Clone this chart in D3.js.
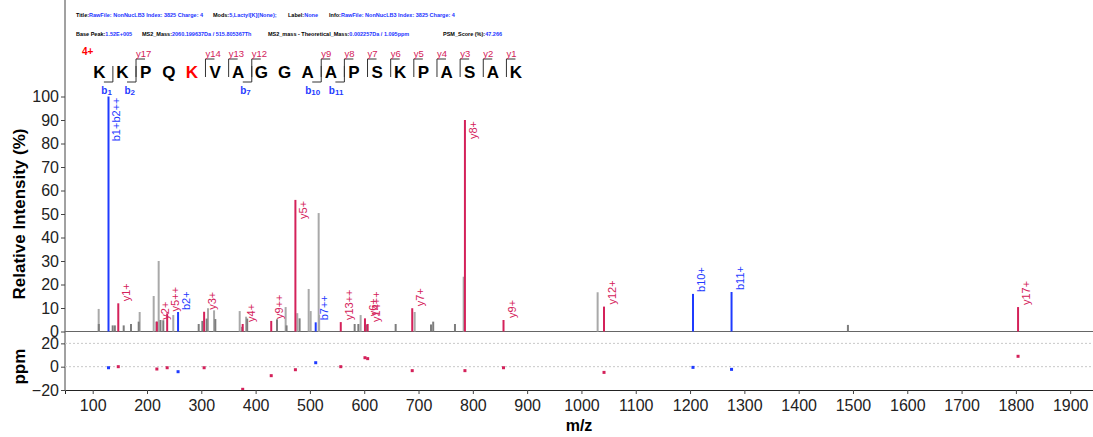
<!DOCTYPE html>
<html>
<head>
<meta charset="utf-8">
<script src="https://cdn.jsdelivr.net/npm/d3@7"></script>
<style>
    body { margin: 0; background: #ffffff; }
    svg { display: block; font-family: "Liberation Sans", Arial, sans-serif; }
</style>
</head>
<body>
<div id="chartContainer"></div>
<script>
// Peptide and fragment coverage
const sequence = "KKPQKVAGGAAPSKPASAK".split("");
const modSites = [5];
const bSites = [1, 2, 7, 10, 11];
const ySites = [17, 14, 13, 12, 9, 8, 7, 6, 5, 4, 3, 2, 1];
const precursorCharge = "4+";

// Header info
const headerRow1 = [["Title:", "RawFile: NonNucLB3 Index: 3825 Charge: 4"], ["Mods:", "5,Lactyl[K](None);"], ["Label:", "None"], ["Info:", "RawFile: NonNucLB3 Index: 3825 Charge: 4"]];
const headerRow2 = [["Base Peak:", "1.52E+005"], ["MS2_Mass:", "2060.199637Da / 515.805367Th"], ["MS2_mass - Theoretical_Mass:", "0.002257Da / 1.095ppm"], ["PSM_Score (%):", "47.266"]];

// Unmatched peaks (m/z, relative intensity)
const otherMz = [111.0, 111.3, 136.8, 140.8, 157.1, 170.5, 184.7, 186.5, 212.3, 217.5, 221.5, 224.8, 230.0, 248.4,
    295.2, 301.9, 309.9, 312.3, 323.5, 325.8, 370.7, 375.3, 382.5, 384.5, 439.4, 455.3, 457.0, 476.7, 481.0,
    497.7, 501.4, 516.1, 517.0, 582.4, 589.2, 593.4, 605.0, 657.9, 692.9, 723.0, 727.0, 767.1, 783.1, 1029.8, 1490.7];
const otherInt = [9.6, 3.2, 2.6, 2.6, 2.6, 3.2, 4.2, 8.3, 15.1, 4.2, 30.0, 4.9, 4.8, 7.0,
    3.2, 4.5, 5.5, 9.9, 9.0, 5.3, 8.7, 2.0, 6.3, 5.5, 5.2, 10.4, 2.6, 7.8, 5.6,
    18.1, 8.7, 50.4, 7.0, 3.2, 3.2, 7.0, 3.0, 3.2, 8.3, 3.0, 4.2, 3.2, 23.3, 16.7, 2.8];

// Matched fragment ions
const ionLabels = ["b1+b2++", "b2+", "b7++", "b10+", "b11+",
    "y1+", "y2+", "y5++", "y3+", "y4+", "y9++", "y5+", "y13++", "y6+", "y14++", "y7+", "y8+", "y9+", "y12+", "y17+"];
const ionType = ["b", "b", "b", "b", "b",
    "y", "y", "y", "y", "y", "y", "y", "y", "y", "y", "y", "y", "y", "y", "y"];
const ionMz = [129.10, 257.20, 510.66, 1205.4, 1276.4,
    147.11, 218.15, 237.14, 305.18, 376.22, 428.75, 473.27, 556.81, 601.37, 606.34, 688.40, 785.45, 856.49, 1041.57, 1804.0];
const ionInt = [100, 8.3, 3.9, 16.0, 16.8,
    12.0, 4.2, 7.7, 8.4, 3.2, 4.5, 56.0, 4.0, 5.6, 3.2, 9.9, 90.0, 4.9, 10.6, 10.4];
const ionPpm = [-0.9, -4.3, 3.4, -0.6, -2.3,
    0.0, -2.0, -0.9, -0.9, -19.4, -7.7, -2.6, 0.0, 7.7, 6.9, -3.4, -3.4, -0.9, -4.9, 8.9];

const intensityTicks = [0, 10, 20, 30, 40, 50, 60, 70, 80, 90, 100];
const ppmTicks = [-20, 0, 20];
const mzTicks = d3.range(100, 2000, 100);

const width = 1093;
const height = 437;
const left = 65;

const colors = { b: "#1f3bff", y: "#d4215a", mod: "#ff0000" };

const svg = d3.select("#chartContainer")
    .append("svg")
    .attr("width", width)
    .attr("height", height);

// Scales
const x = d3.scaleLinear().domain([49, 1942]).range([left, width]);
const yInt = d3.scaleLinear().domain([0, 100]).range([331.5, 96.5]);
const yPpm = d3.scaleLinear().domain([-20, 30]).range([390, 331.7]);

// Header lines
function drawHeader(row, yPos, starts) {
    const t = svg.append("text")
        .attr("y", yPos)
        .style("font-size", "5.5px")
        .style("font-weight", "bold");
    row.forEach((item, i) => {
        t.append("tspan").attr("x", starts[i]).attr("fill", "#000").text(item[0]);
        t.append("tspan").attr("fill", "#2233ff").text(item[1]);
    });
}
drawHeader(headerRow1, 17, [76, 213, 288, 329]);
drawHeader(headerRow2, 36, [76, 142, 268, 443]);

// Sequence annotation
const seqX = d3.scaleLinear().domain([0, sequence.length - 1]).range([99.3, 516]);
const seqG = svg.append("g");

seqG.selectAll(".aa")
    .data(sequence)
    .enter().append("text")
    .attr("class", "aa")
    .attr("x", (d, i) => seqX(i))
    .attr("y", 78)
    .attr("text-anchor", "middle")
    .style("font-size", "17px")
    .style("font-weight", "bold")
    .attr("fill", (d, i) => modSites.includes(i + 1) ? colors.mod : "#000")
    .text(d => d);

seqG.append("text")
    .attr("x", 82)
    .attr("y", 55)
    .style("font-size", "10px")
    .style("font-weight", "bold")
    .attr("fill", colors.mod)
    .text(precursorCharge);

// b ion markers: vertical + hook to the left at bottom
bSites.forEach(n => {
    const gx = seqX(n - 0.5) + 2;
    seqG.append("path")
        .attr("d", `M${gx},66V82H${gx - 9}`)
        .attr("fill", "none")
        .attr("stroke", "#333")
        .attr("stroke-width", 1);
    const t = seqG.append("text")
        .attr("x", gx - 1)
        .attr("y", 94)
        .attr("text-anchor", "end")
        .attr("fill", colors.b)
        .style("font-size", "10px")
        .style("font-weight", "bold");
    t.append("tspan").text("b");
    t.append("tspan").style("font-size", "8px").attr("dy", 1).text(n);
});

// y ion markers: vertical + hook to the right at top
ySites.forEach(n => {
    const gx = seqX(sequence.length - n - 0.5) + 2;
    seqG.append("path")
        .attr("d", `M${gx},77V59H${gx + 9}`)
        .attr("fill", "none")
        .attr("stroke", "#333")
        .attr("stroke-width", 1);
    seqG.append("text")
        .attr("x", gx)
        .attr("y", 57)
        .attr("fill", colors.y)
        .style("font-size", "9.5px")
        .text("y" + n);
});

// Axes lines
svg.append("line")
    .attr("x1", left).attr("x2", left)
    .attr("y1", 0).attr("y2", 390)
    .attr("stroke", "#444");

svg.append("line")
    .attr("x1", left).attr("x2", width)
    .attr("y1", yInt(0)).attr("y2", yInt(0))
    .attr("stroke", "#666")
    .attr("stroke-width", 1.2);

// ppm grid lines
svg.selectAll(".ppmGrid")
    .data([20, 0])
    .enter().append("line")
    .attr("class", "ppmGrid")
    .attr("x1", left).attr("x2", width)
    .attr("y1", d => yPpm(d)).attr("y2", d => yPpm(d))
    .attr("stroke", "#c8c8c8")
    .attr("stroke-dasharray", "2,2");

// Unmatched peaks (light ones first, small darker ones on top)
const others = otherMz.map((m, i) => ({ mz: m, inten: otherInt[i] }))
    .sort((a, b) => b.inten - a.inten);

svg.selectAll(".other")
    .data(others)
    .enter().append("line")
    .attr("class", "other")
    .attr("x1", d => x(d.mz)).attr("x2", d => x(d.mz))
    .attr("y1", yInt(0)).attr("y2", d => yInt(d.inten))
    .attr("stroke", d => d.inten < 6 ? "#7d7d7d" : "#a9a9a9")
    .attr("stroke-width", 2);

// Matched peaks
const ions = ionLabels.map((l, i) => ({ label: l, type: ionType[i], mz: ionMz[i], inten: ionInt[i], ppm: ionPpm[i] }));

svg.selectAll(".ion")
    .data(ions)
    .enter().append("line")
    .attr("class", "ion")
    .attr("x1", d => x(d.mz)).attr("x2", d => x(d.mz))
    .attr("y1", yInt(0)).attr("y2", d => yInt(d.inten))
    .attr("stroke", d => colors[d.type])
    .attr("stroke-width", 2);

svg.selectAll(".ionLabel")
    .data(ions)
    .enter().append("text")
    .attr("class", "ionLabel")
    .attr("transform", d => d.inten > 40
        ? `translate(${x(d.mz) + 12},${yInt(d.inten) + 1}) rotate(-90)`
        : `translate(${x(d.mz) + 12},${yInt(d.inten) - 2}) rotate(-90)`)
    .attr("text-anchor", d => d.inten > 40 ? "end" : "start")
    .attr("fill", d => colors[d.type])
    .style("font-size", "11px")
    .text(d => d.label);

// ppm error points
svg.selectAll(".ppmDot")
    .data(ions)
    .enter().append("rect")
    .attr("class", "ppmDot")
    .attr("x", d => x(d.mz) - 1.5)
    .attr("y", d => yPpm(d.ppm) - 1.5)
    .attr("width", 3)
    .attr("height", 3)
    .attr("fill", d => colors[d.type]);

// Y axes
const yAxisInt = svg.append("g")
    .attr("transform", `translate(${left},0)`)
    .call(d3.axisLeft(yInt).tickValues(intensityTicks).tickSize(4).tickPadding(2));
yAxisInt.select(".domain").remove();

const yAxisPpm = svg.append("g")
    .attr("transform", `translate(${left},0)`)
    .call(d3.axisLeft(yPpm).tickValues(ppmTicks).tickSize(4).tickPadding(2));
yAxisPpm.select(".domain").remove();

// X axis
const xAxis = svg.append("g")
    .attr("transform", "translate(0,390)")
    .call(d3.axisBottom(x).tickValues(mzTicks).tickFormat(d3.format("d")).tickSize(4).tickPadding(6));
xAxis.select(".domain").attr("stroke", "#222");

svg.selectAll(".tick text")
    .style("font-size", "16px")
    .style("font-family", "'Liberation Sans', Arial, sans-serif")
    .attr("fill", "#222");
svg.selectAll(".tick line").attr("stroke", "#444");

// Axis titles
svg.append("text")
    .attr("transform", `translate(25,${yInt(50)}) rotate(-90)`)
    .attr("text-anchor", "middle")
    .style("font-size", "17px")
    .style("font-weight", "bold")
    .text("Relative Intensity (%)");

svg.append("text")
    .attr("transform", `translate(25,${yPpm(0)}) rotate(-90)`)
    .attr("text-anchor", "middle")
    .style("font-size", "17px")
    .style("font-weight", "bold")
    .text("ppm");

svg.append("text")
    .attr("x", (left + width) / 2)
    .attr("y", 431)
    .attr("text-anchor", "middle")
    .style("font-size", "16px")
    .style("font-weight", "bold")
    .text("m/z");
</script>
</body>
</html>
